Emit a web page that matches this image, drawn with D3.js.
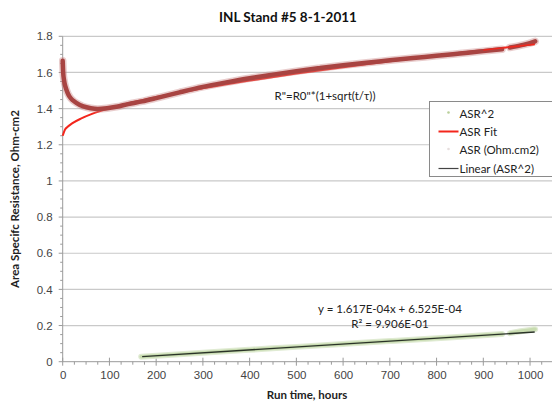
<!DOCTYPE html>
<html>
<head>
<meta charset="utf-8">
<script src="https://cdn.jsdelivr.net/npm/d3@7"></script>
<style>
  body { margin: 0; background: #fff; }
  svg { display: block; font-family: Lato, "Open Sans", sans-serif; }
  .tick-label { font-size: 11.5px; fill: #444; }
  .axis-title { font-size: 11.5px; font-weight: bold; fill: #222; }
  .legend-text { font-size: 11.5px; fill: #222; }
</style>
</head>
<body>
<svg id="chart" width="552" height="409"></svg>
<script>
// ASR data (dark red band), hours -> Ohm.cm2, two runs split by a gap
const asrHours1 = [0, 1, 3, 6, 10, 15, 22, 30, 44, 60, 75, 95, 115, 140, 170, 200, 250, 300, 350, 400, 450, 500, 550, 600, 650, 700, 750, 800, 850, 900, 940];
const asrValues1 = [1.665, 1.60, 1.555, 1.52, 1.49, 1.465, 1.445, 1.43, 1.412, 1.402, 1.398, 1.402, 1.41, 1.425, 1.44, 1.458, 1.49, 1.52, 1.545, 1.568, 1.588, 1.607, 1.624, 1.64, 1.654, 1.667, 1.68, 1.692, 1.705, 1.718, 1.728];
const asrHours2 = [957, 980, 1000, 1011];
const asrValues2 = [1.738, 1.75, 1.762, 1.772];

// ASR fit curve R"=R0"*(1+sqrt(t/tau))
const fitHours = [0, 5, 10, 20, 40, 60, 80, 100, 150, 200, 300, 400, 500, 600, 700, 800, 900, 1010];
const fitValues = [1.25, 1.284, 1.298, 1.318, 1.346, 1.368, 1.386, 1.402, 1.436, 1.464, 1.512, 1.555, 1.594, 1.629, 1.662, 1.694, 1.724, 1.756];

// ASR^2 data (light green band)
const sqHours1 = [168, 300, 400, 500, 600, 700, 800, 900, 940];
const sqValues1 = [0.028, 0.05, 0.066, 0.082, 0.098, 0.114, 0.13, 0.146, 0.153];
const sqHours2 = [957, 980, 1000, 1011];
const sqValues2 = [0.158, 0.168, 0.176, 0.18];

// linear trend of ASR^2
const trendHours = [170, 1010];
const trendValues = [0.028, 0.164];

const xTicks = [0, 100, 200, 300, 400, 500, 600, 700, 800, 900, 1000];
const yTicks = [0, 0.2, 0.4, 0.6, 0.8, 1, 1.2, 1.4, 1.6, 1.8];
const yTickLabels = ["0", "0.2", "0.4", "0.6", "0.8", "1", "1.2", "1.4", "1.6", "1.8"];

const legendLabels = ["ASR^2", "ASR Fit", "ASR (Ohm.cm2)", "Linear (ASR^2)"];

const svg = d3.select("#chart");
const W = +svg.attr("width"), H = +svg.attr("height");

const x = d3.scaleLinear().domain([0, 1200]).range([62.7, 623.5]);
const y = d3.scaleLinear().domain([0, 1.8]).range([361.7, 36.3]);

const plotLeft = x(0), plotBottom = y(0), plotTop = y(1.8);

// gridlines
svg.append("g")
  .selectAll("line")
  .data(yTicks.filter(d => d > 0))
  .join("line")
  .attr("x1", plotLeft).attr("x2", W)
  .attr("y1", d => y(d)).attr("y2", d => y(d))
  .attr("stroke", "#c9c9c9").attr("stroke-width", 1.2);

// axes
const yAxis = d3.axisLeft(y).tickValues(yTicks).tickSize(0).tickPadding(10)
  .tickFormat((d, i) => yTickLabels[i]);
const gy = svg.append("g").attr("transform", `translate(${plotLeft},0)`).call(yAxis);
gy.select(".domain").remove();
gy.selectAll("text").attr("class", "tick-label").attr("font-family", null).attr("font-size", null);

const xAxis = d3.axisBottom(x).tickValues(xTicks).tickSize(0).tickPadding(9)
  .tickFormat(d3.format("d"));
const gx = svg.append("g").attr("transform", `translate(0,${plotBottom})`).call(xAxis);
gx.select(".domain").remove();
gx.selectAll("text").attr("class", "tick-label").attr("font-family", null).attr("font-size", null);

// axis lines + tick marks
svg.append("line")
  .attr("x1", plotLeft).attr("x2", plotLeft).attr("y1", plotTop).attr("y2", plotBottom)
  .attr("stroke", "#9a9a9a");
svg.append("line")
  .attr("x1", plotLeft).attr("x2", W).attr("y1", plotBottom).attr("y2", plotBottom)
  .attr("stroke", "#9a9a9a");

const yMinor = d3.range(0, 1.8001, 0.05);
svg.append("g").selectAll("line").data(yMinor).join("line")
  .attr("x1", d => plotLeft - (Math.abs(d / 0.2 - Math.round(d / 0.2)) < 1e-6 ? 4 : 2.5))
  .attr("x2", plotLeft)
  .attr("y1", d => y(d)).attr("y2", d => y(d))
  .attr("stroke", "#9a9a9a");

const xMinor = d3.range(0, 1200, 25);
svg.append("g").selectAll("line").data(xMinor).join("line")
  .attr("x1", d => x(d)).attr("x2", d => x(d))
  .attr("y1", d => plotBottom - (d % 100 === 0 ? 4 : 0))
  .attr("y2", d => plotBottom + (d % 100 === 0 ? 4 : 3))
  .attr("stroke", "#9a9a9a");

const line = d3.line().x(d => x(d[0])).y(d => y(d[1])).curve(d3.curveMonotoneX);
const zip = (a, b) => a.map((t, i) => [t, b[i]]);

// ASR^2 green band
[zip(sqHours1, sqValues1), zip(sqHours2, sqValues2)].forEach(seg => {
  svg.append("path").attr("d", line(seg)).attr("fill", "none")
    .attr("stroke", "#e0ebd3").attr("stroke-width", 6).attr("stroke-linecap", "round");
  svg.append("path").attr("d", line(seg)).attr("fill", "none")
    .attr("stroke", "#c8dcb0").attr("stroke-width", 3.5).attr("stroke-linecap", "round");
});

// trend line
svg.append("path").attr("d", d3.line().x(d => x(d[0])).y(d => y(d[1]))(zip(trendHours, trendValues)))
  .attr("fill", "none").attr("stroke", "#2a3328").attr("stroke-width", 1.4);

// ASR fit (red)
svg.append("path").attr("d", line(zip(fitHours, fitValues)))
  .attr("fill", "none").attr("stroke", "#f3261c").attr("stroke-width", 2);

// ASR data band (dark red)
[zip(asrHours1, asrValues1), zip(asrHours2, asrValues2)].forEach(seg => {
  svg.append("path").attr("d", line(seg)).attr("fill", "none")
    .attr("stroke", "rgba(200,130,130,0.4)").attr("stroke-width", 7.5).attr("stroke-linecap", "round");
  svg.append("path").attr("d", line(seg)).attr("fill", "none")
    .attr("stroke", "#a84442").attr("stroke-width", 4.5).attr("stroke-linecap", "round");
});
// fit re-drawn on top where it leaves the band at the end
svg.append("path").attr("d", line(zip(fitHours.slice(-2), fitValues.slice(-2))))
  .attr("fill", "none").attr("stroke", "#f3261c").attr("stroke-width", 1.3);

// annotations
svg.append("text").attr("x", 325).attr("y", 100).attr("text-anchor", "middle")
  .attr("class", "legend-text").text("R\"=R0\"*(1+sqrt(t/τ))");
svg.append("text").attr("x", 390).attr("y", 313).attr("text-anchor", "middle")
  .attr("class", "legend-text").text("y = 1.617E-04x + 6.525E-04");
svg.append("text").attr("x", 390).attr("y", 328).attr("text-anchor", "middle")
  .attr("class", "legend-text").text("R² = 9.906E-01");

// titles
svg.append("text").attr("x", 288).attr("y", 22).attr("text-anchor", "middle")
  .attr("font-size", "13.5px").attr("font-weight", "bold").attr("fill", "#111")
  .text("INL Stand #5 8-1-2011");
svg.append("text").attr("class", "axis-title").attr("text-anchor", "middle")
  .attr("transform", "translate(19,199) rotate(-90)")
  .text("Area Specifc Resistance, Ohm-cm2");
svg.append("text").attr("class", "axis-title").attr("text-anchor", "middle")
  .attr("x", 307).attr("y", 399).text("Run time, hours");

// legend
const lg = svg.append("g").attr("transform", "translate(429.5,101.5)");
lg.append("rect").attr("width", 140).attr("height", 75)
  .attr("fill", "#fff").attr("stroke", "#8a8a8a");
const rowY = [12, 30, 48.5, 67];
lg.selectAll(".legend-text").data(legendLabels).join("text")
  .attr("class", "legend-text").attr("x", 30).attr("y", (d, i) => rowY[i] + 4).text(d => d);
lg.append("circle").attr("cx", 19).attr("cy", rowY[0] - 1).attr("r", 1.3).attr("fill", "#b9cf9a");
lg.append("line").attr("x1", 9).attr("x2", 29).attr("y1", rowY[1]).attr("y2", rowY[1])
  .attr("stroke", "#f3261c").attr("stroke-width", 2);
lg.append("circle").attr("cx", 19).attr("cy", rowY[2] - 1).attr("r", 1.3).attr("fill", "#e6dede");
lg.append("line").attr("x1", 9).attr("x2", 29).attr("y1", rowY[3]).attr("y2", rowY[3])
  .attr("stroke", "#444").attr("stroke-width", 1.2);
</script>
</body>
</html>
